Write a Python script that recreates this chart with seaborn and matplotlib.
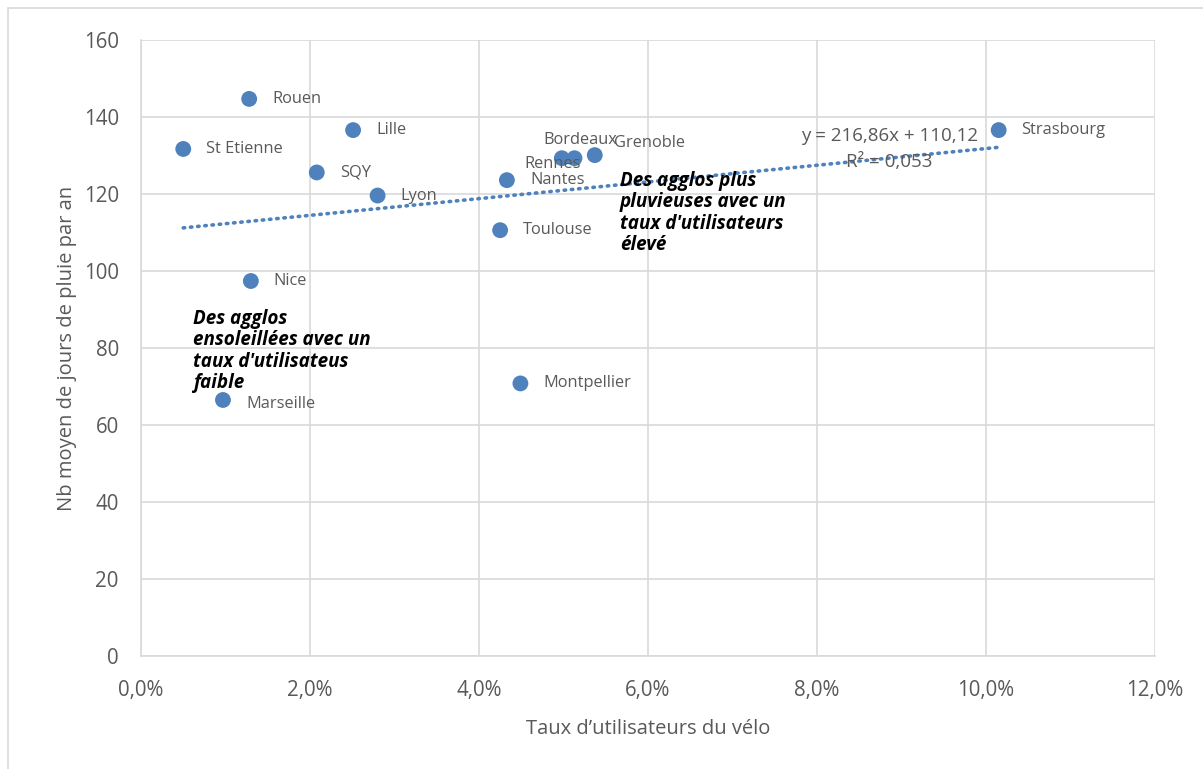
import numpy as np
import pandas as pd
import seaborn as sns
import matplotlib.pyplot as plt
from matplotlib.ticker import FuncFormatter
from matplotlib.patches import Rectangle

# data (x = share of bike users, y = rainy days per year)
cities = ['Rouen', 'Lille', 'St Etienne', 'SQY', 'Lyon', 'Nice', 'Marseille',
          'Montpellier', 'Rennes', 'Bordeaux', 'Grenoble', 'Nantes', 'Toulouse', 'Strasbourg']
velo = [0.0128, 0.0251, 0.0050, 0.0208, 0.0280, 0.0130, 0.0097,
        0.0449, 0.0498, 0.0513, 0.0537, 0.0433, 0.0425, 0.1015]
pluie = [144.7, 136.6, 131.7, 125.6, 119.6, 97.4, 66.5,
         70.8, 129.3, 129.3, 130.1, 123.6, 110.6, 136.6]
# label offsets in pixels (Excel labels were moved by hand for some)
label_dx = [23, 23, 23, 23, 23, 23, 23, 23, -37, -31, 19, 23, 23, 22]
label_dy = [0, 0, 0, 0, 0, 0, -4, 0, -6, 18, 12, 0, 0, 0]

slope, intercept, r2 = 216.86, 110.12, 0.053

df = pd.DataFrame({'ville': cities, 'velo': velo, 'pluie': pluie})

blue = '#4f81bd'
grey = '#595959'

sns.set_style('white')
plt.rcParams['font.family'] = ['Open Sans', 'DejaVu Sans']

fig = plt.figure(figsize=(12.03, 7.69), dpi=100)
ax = fig.add_axes([141 / 1203, 1 - 656 / 769, (1155 - 141) / 1203, (656 - 40) / 769])

# trendline from the Excel equation
xt = np.array([df.velo.min(), df.velo.max()])
trend = pd.DataFrame({'x': xt, 'y': slope * xt + intercept})
sns.lineplot(data=trend, x='x', y='y', ax=ax, color=blue, lw=2.6,
             linestyle=(0, (0.4, 1.6)), dash_capstyle='round', zorder=2)

sns.scatterplot(data=df, x='velo', y='pluie', ax=ax, color=blue, s=130,
                edgecolor='none', zorder=3)

for name, x, y, dx, dy in zip(cities, velo, pluie, label_dx, label_dy):
    ax.annotate(name, (x, y), xytext=(dx * 0.72, dy * 0.72), textcoords='offset points',
                ha='left', va='center', fontsize=11.8, color=grey)

ax.text(0.0886, 135, 'y = 216,86x + 110,12', ha='center', va='center',
        fontsize=13.5, color=grey)
ax.text(0.0886, 128.3, 'R² = 0,053', ha='center', va='center', fontsize=13.5, color=grey)

ax.text(0.0567, 126, "Des agglos plus\npluvieuses avec un\ntaux d'utilisateurs\nélevé",
        ha='left', va='top', fontsize=13.6, fontweight='bold', fontstyle='italic',
        color='black', linespacing=1.1)
ax.text(0.0062, 90.2, "Des agglos\nensoleillées avec un\ntaux d'utilisateus\nfaible",
        ha='left', va='top', fontsize=13.6, fontweight='bold', fontstyle='italic',
        color='black', linespacing=1.1)

ax.set_xlim(0, 0.12)
ax.set_ylim(0, 160)
ax.set_xticks(np.arange(0, 0.1201, 0.02))
ax.set_yticks(np.arange(0, 161, 20))
ax.xaxis.set_major_formatter(FuncFormatter(lambda v, p: f'{v * 100:.1f}%'.replace('.', ',')))
ax.grid(True, color='#d9d9d9', lw=1.2)
ax.set_axisbelow(True)
for side in ['top', 'right']:
    ax.spines[side].set_visible(False)
for side in ['left', 'bottom']:
    ax.spines[side].set_color('#d9d9d9')
    ax.spines[side].set_linewidth(1.2)
ax.tick_params(length=0, labelsize=14.8, labelcolor=grey)
ax.tick_params(axis='x', pad=17)
ax.tick_params(axis='y', pad=16)
ax.set_xlabel('Taux d’utilisateurs du vélo', fontsize=14.5, color=grey, labelpad=13)
ax.set_ylabel('Nb moyen de jours de pluie par an', fontsize=14.5, color=grey, labelpad=5)

fig.patches.append(Rectangle((8 / 1203, -0.01), 1.02, 1 - 8 / 769 + 0.01,
                             transform=fig.transFigure, fill=False,
                             edgecolor='#d9d9d9', lw=1.2))

fig.savefig('out.png', dpi=100)
